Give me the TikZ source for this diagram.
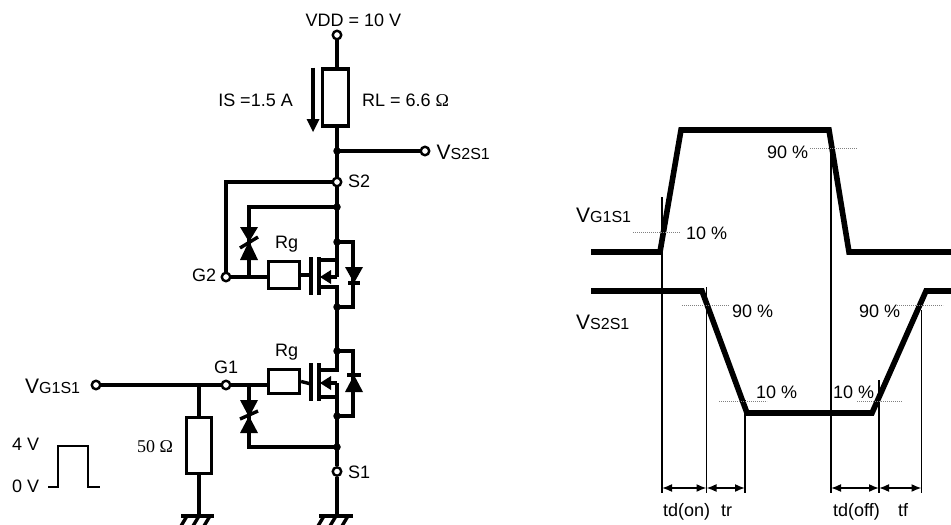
\documentclass[tikz,border=0pt]{standalone}
\usepackage{fontspec}
\setmainfont{Liberation Sans}
\newfontfamily\serifomega{Liberation Serif}
\usetikzlibrary{arrows.meta}
\tikzstyle{wire}=[line width=3.4pt,line join=miter]
\tikzstyle{pulse}=[line width=2pt]
\tikzstyle{wave}=[line width=5.6pt,line join=miter]
\tikzstyle{timeline}=[line width=1.8pt]
\tikzstyle{level}=[line width=0.8pt,gray,dash pattern=on 1.2pt off 0.8pt]
\tikzstyle{terminal}=[circle,line width=2.4pt,draw=black,fill=white,inner sep=0pt,minimum size=8.5pt]
\tikzstyle{junction}=[circle,fill=black,inner sep=0pt,minimum size=7.5pt]
\tikzstyle{resistor}=[rectangle,line width=3.2pt,draw=black,fill=white,inner sep=0pt]
\tikzstyle{lbl}=[inner sep=0pt,anchor=base west,font=\fontsize{18}{20}\selectfont]
\newcommand{\bigsub}[2]{{\fontsize{21}{20}\selectfont #1}{\fontsize{16}{20}\selectfont #2}}
\newcommand{\ohm}{{\serifomega\symbol{"03A9}}}
% tip x,y and base y of a diode triangle
\newcommand{\tri}[4]{\fill (#1,#2) -- (#1-#4,#3) -- (#1+#4,#3) -- cycle;}
\begin{document}
\begin{tikzpicture}[x=1pt,y=-1pt,>={Latex[length=10pt,width=8pt]}]
    \useasboundingbox (0,0) rectangle (951,525);
    % Load branch
    \node (vdd) [terminal] at (337,35) {};
    \node (rl) [resistor,minimum width=25.5pt,minimum height=57pt] at (335.5,97.5) {};
    \node (out) [junction] at (337,151) {};
    \node (vout) [terminal] at (425,151) {};
    \node (s2) [terminal] at (337,182) {};
    \node (g2) [terminal] at (226,277) {};
    \node (tz2) [junction] at (337,207) {};
    \node (d2) [junction] at (337,242) {};
    \node (d2b) [junction] at (337,307) {};
    \node (d1) [junction] at (337,351) {};
    \node (d1b) [junction] at (337,416) {};
    \node (tz1) [junction] at (337,447) {};
    \node (s1) [terminal] at (337,471.5) {};
    \node (g1) [terminal] at (226,385) {};
    \node (vin) [terminal] at (96,385) {};
    \node (rg2) [resistor,minimum width=31pt,minimum height=27pt] at (284,275) {};
    \node (rg1) [resistor,minimum width=31pt,minimum height=24pt] at (284,381.5) {};
    \node (r50) [resistor,minimum width=24.5pt,minimum height=56pt] at (199,445.5) {};
    \coordinate (gnd1) at (199,516);
    \coordinate (gnd2) at (337,516);
    \coordinate (tee) at (199,384);
    \coordinate (zb2) at (249,207);
    \coordinate (zg2) at (249,277);
    \coordinate (zg1) at (249,384);
    \coordinate (zb1) at (249,447);

    % Drain line and connections
    \draw[wire] (vdd) -- (rl.north -| vdd);
    \draw[wire] (rl.south -| vdd) -- (out.center) -- (s2);
    \draw[wire] (out.center) -- (vout);
    \draw[wire] (s2) -- (337,277);
    \draw[wire] (s2) -| (g2);
    \draw[wire] (tz2.center) -- (zb2) -- (zg2);
    \draw[wire] (g2) -- (rg2.west |- g2);
    \draw[wire] (vin) -- (g1);
    \draw[wire] (g1) -- (rg1.west |- g1);
    \draw[wire] (tee) -- (r50.north);
    \draw[wire] (r50.south) -- (gnd1);
    \draw[wire] (zg1) -- (zb1) -- (tz1.center);
    \draw[wire] (337,287) -- (337,370);
    \draw[wire] (337,383) -- (s1);
    \draw[wire] (s1) -- (gnd2);

    % Upper transistor
    \draw[wire] (rg2.east) -- (311,275);
    \draw[wire] (311,257) -- (311,295);
    \draw[wire] (319,257) -- (319,295);
    \draw[wire] (319,260) -- (338.7,260);
    \draw[wire] (319,287) -- (338.7,287);
    \draw[wire] (337,277) -- (325,277);
    \fill (320,277) -- (331,270) -- (331,284) -- cycle;
    \draw[wire] (d2.center) -| (353,307) -- (d2b.center);
    \tri{354}{283}{267}{9}
    \draw[wire] (348,283) -- (360,283);
    \tri{249}{242}{227}{9}
    \tri{249}{241}{260}{9}
    \draw[wire] (240,248) -- (258,237);

    % Lower transistor
    \draw[wire] (rg1.east) -- (311,384);
    \draw[wire] (311,363) -- (311,401);
    \draw[wire] (319,363) -- (319,401);
    \draw[wire] (319,370) -- (338.7,370);
    \draw[wire] (319,397) -- (338.7,397);
    \draw[wire] (337,383) -- (325,383);
    \fill (320,383) -- (331,376) -- (331,390) -- cycle;
    \draw[wire] (d1.center) -| (353,416) -- (d1b.center);
    \tri{354}{375}{392}{9}
    \draw[wire] (347,375) -- (361,375);
    \tri{249}{417}{400}{9}
    \tri{249}{416}{433}{9}
    \draw[wire] (240,419) -- (258,411);

    % Grounds
    \draw[wire] (181,516) -- (214,516);
    \draw[wire] (319,516) -- (353,516);
    \foreach \x in {187,199,210,324,336,348}
      \draw[wire] (\x,516) -- (\x-6,526);

    % Current arrow and input pulse
    \node (is1) at (313,67) [inner sep=0pt] {};
    \node (is2) at (313,122) [inner sep=0pt] {};
    \draw[line width=4.4pt] (is1) -- (is2);
    \fill (313,132) -- (306.5,119) -- (319.5,119) -- cycle;
    \draw[pulse] (48,487) -- (58,487) -- (58,445.5) -- (88,445.5) -- (88,487) -- (100,487);

    % Circuit labels
    \node (t_vdd) [lbl] at (305.5,26) {VDD = 10 V};
    \node (t_is) [lbl,anchor=base east] at (293,106) {IS =1.5 A};
    \node (t_rl) [lbl] at (362,106) {RL = 6.6 \ohm};
    \node (t_vout) [lbl] at (436.5,159) {\bigsub{V}{S2S1}};
    \node (t_s2) [lbl] at (348,187) {S2};
    \node (t_g2) [lbl] at (192,281) {G2};
    \node (t_rg2) [lbl] at (275,248) {Rg};
    \node (t_rg1) [lbl] at (275,356) {Rg};
    \node (t_g1) [lbl] at (214,373) {G1};
    \node (t_s1) [lbl] at (348,478) {S1};
    \node (t_vin) [lbl] at (25,393) {\bigsub{V}{G1S1}};
    \node (t_4v) [lbl] at (12,450) {4 V};
    \node (t_0v) [lbl] at (12,492) {0 V};
    \node (t_50) [lbl] at (137,452.5) {{\serifomega 50 \symbol{"03A9}}};

    % Waveforms
    \draw[timeline] (662,197) -- (662,493);
    \draw[timeline] (706.5,287) -- (706.5,493);
    \draw[timeline] (745,400) -- (745,493);
    \draw[timeline] (831,153) -- (831,493);
    \draw[timeline] (879,380) -- (879,493);
    \draw[timeline] (921.5,310) -- (921.5,493);
    \draw[wave] (591,252) -- (660,252) -- (681,130) -- (829,130) -- (849,252) -- (951,252);
    \draw[wave] (591,291) -- (702,291) -- (747,413) -- (872,413) -- (926,291) -- (951,291);
    \draw[level] (633,232) -- (680,232);
    \draw[level] (810,148) -- (857,148);
    \draw[level] (682,305) -- (729,305);
    \draw[level] (897,305) -- (943,305);
    \draw[level] (719,401) -- (767,401);
    \draw[level] (857,401) -- (902,401);

    % Switching times
    \coordinate (a1) at (662,488);
    \coordinate (a2) at (706.5,488);
    \coordinate (a3) at (745,488);
    \coordinate (a4) at (831,488);
    \coordinate (a5) at (879,488);
    \coordinate (a6) at (921.5,488);
    \path[<->,line width=1.6pt]
    (a1) edge (a2)
    (a2) edge (a3)
    (a4) edge (a5)
    (a5) edge (a6);

    % Waveform labels
    \node (t_vg) [lbl] at (576,222) {\bigsub{V}{G1S1}};
    \node (t_vs) [lbl] at (576,329) {\bigsub{V}{S2S1}};
    \node (t_p1) [lbl] at (686,239) {10 \%};
    \node (t_p2) [lbl] at (767,158) {90 \%};
    \node (t_p3) [lbl] at (732,317) {90 \%};
    \node (t_p4) [lbl] at (859,317) {90 \%};
    \node (t_p5) [lbl] at (756,398) {10 \%};
    \node (t_p6) [lbl] at (833,398) {10 \%};
    \node (t_don) [lbl] at (663,516) {td(on)};
    \node (t_tr) [lbl] at (721,516) {tr};
    \node (t_doff) [lbl] at (833,516) {td(off)};
    \node (t_tf) [lbl] at (898,516) {tf};
\end{tikzpicture}
\end{document}
